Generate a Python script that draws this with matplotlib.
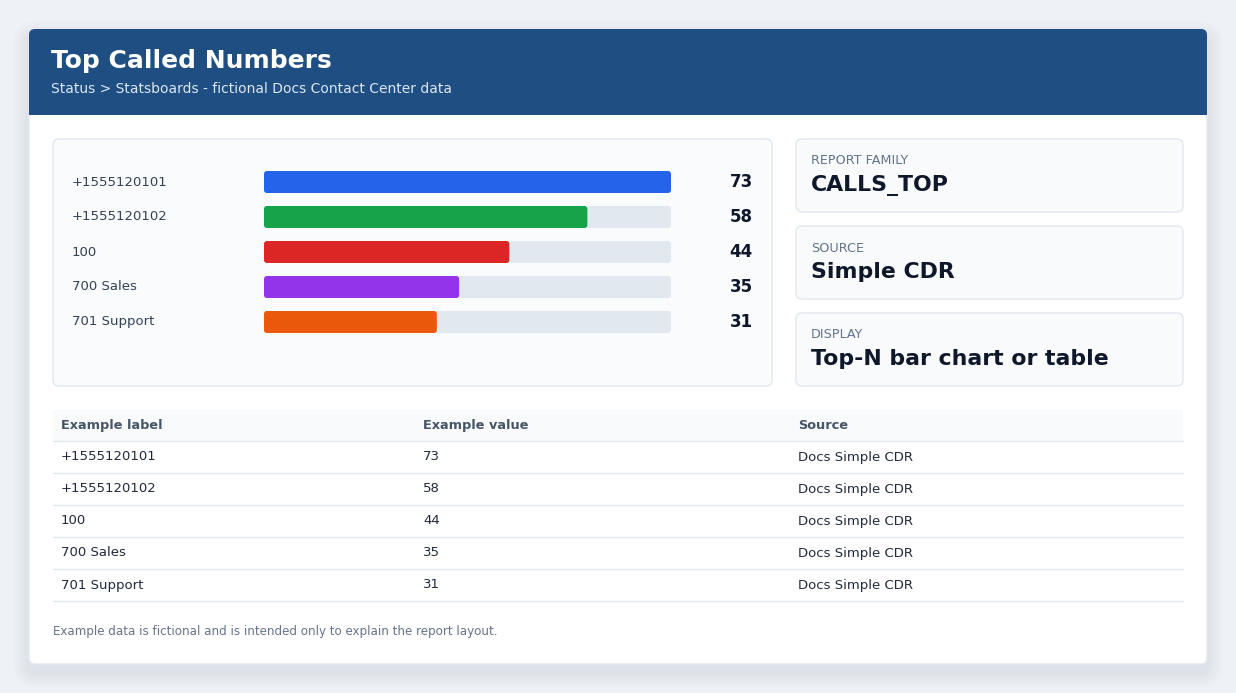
"""
Top Called Numbers - statsboard card
"""

import matplotlib.pyplot as plt
from matplotlib.patches import FancyBboxPatch, Rectangle

# data
labels = ["+1555120101", "+1555120102", "100", "700 Sales", "701 Support"]
values = [73, 58, 44, 35, 31]
bar_colors = ["#2563eb", "#16a34a", "#dc2626", "#9333ea", "#ea580c"]
sources = ["Docs Simple CDR"] * 5
table_headers = ["Example label", "Example value", "Source"]
info_titles = ["REPORT FAMILY", "SOURCE", "DISPLAY"]
info_values = ["CALLS_TOP", "Simple CDR", "Top-N bar chart or table"]

W, H = 1236, 693
fig = plt.figure(figsize=(W / 100, H / 100), dpi=100)
fig.patch.set_facecolor("#eef2f7")

# one axes in pixel units for the page
ax = fig.add_axes([0, 0, 1, 1])
ax.set_xlim(0, W)
ax.set_ylim(H, 0)
ax.axis("off")


def rbox(x0, y0, x1, y1, fc, ec="none", r=6, lw=1, z=1, alpha=1):
    p = FancyBboxPatch((x0 + r, y0 + r), x1 - x0 - 2 * r, y1 - y0 - 2 * r,
                       boxstyle=f"round,pad={r}", fc=fc, ec=ec, lw=lw,
                       zorder=z, alpha=alpha)
    ax.add_patch(p)
    return p


# soft card shadow + card
for i in range(8):
    d = 16 - 2 * i
    rbox(29 - d, 29 - d + 8, 1207 + d, 664 + d + 8, "#94a3b8", r=8 + d, z=0.5, alpha=0.018)
rbox(29, 29, 1207, 664, "white", ec="#e3e8ef", r=6, z=1)

# header band
rbox(29, 29, 1207, 115, "#1f4e82", r=6, z=2)
ax.add_patch(Rectangle((29, 100), 1178, 15, fc="#1f4e82", ec="none", zorder=2))
ax.text(51, 61, "Top Called Numbers", color="white", fontsize=18,
        fontweight="bold", va="center", zorder=3)
ax.text(51, 89, "Status > Statsboards - fictional Docs Contact Center data",
        color="#dbe6f3", fontsize=10, va="center", zorder=3)

# chart panel
rbox(53, 139, 772, 386, "#f9fbfd", ec="#e2e8f0", r=6, z=2)

# bar axes, the track spans the max value
bax = fig.add_axes([264 / W, 1 - 339.5 / H, 407 / W, 175 / H])
bax.set_xlim(0, max(values))
bax.set_ylim(len(values) - 0.5, -0.5)
bax.axis("off")
ypos = list(range(len(values)))
tracks = bax.barh(ypos, [max(values)] * len(values), height=22 / 35)
bars = bax.barh(ypos, values, height=22 / 35)
fig.canvas.draw()
# redraw the bars as rounded boxes on the page axes
inv = ax.transData.inverted()
for patches, colors in [(tracks, ["#e2e8f0"] * 5), (bars, bar_colors)]:
    for p, c in zip(patches, colors):
        ext = p.get_window_extent()
        (x0, y1), (x1, y0) = inv.transform([[ext.x0, ext.y0], [ext.x1, ext.y1]])
        rbox(x0, y0, x1, y1, c, r=3, z=3 if c == "#e2e8f0" else 4)
        p.set_visible(False)

for i, (lab, v) in enumerate(zip(labels, values)):
    yc = 182 + 35 * i
    ax.text(72, yc, lab, color="#334155", fontsize=9.5, va="center", zorder=5)
    ax.text(753, yc, str(v), color="#0f172a", fontsize=12, fontweight="bold",
            ha="right", va="center", zorder=5)

# info cards
for i, (t, v) in enumerate(zip(info_titles, info_values)):
    y0 = 139 + 87 * i
    rbox(796, y0, 1183, y0 + 73, "#f8fafc", ec="#e2e8f0", r=6, z=2)
    ax.text(811, y0 + 22, t, color="#64748b", fontsize=9.2, va="center", zorder=3)
    ax.text(811, y0 + 46, v, color="#0f172a", fontsize=15.8, fontweight="bold",
            va="center", zorder=3)

# table
col_x = [61, 423, 798]
ax.add_patch(Rectangle((53, 410), 1130, 31, fc="#f8fafc", ec="none", zorder=2))
for cx, h in zip(col_x, table_headers):
    ax.text(cx, 425.5, h, color="#475569", fontsize=9.3, fontweight="bold",
            va="center", zorder=3)
ax.plot([53, 1183], [441, 441], color="#e2e8f0", lw=1, zorder=3)
for i, (lab, v, s) in enumerate(zip(labels, values, sources)):
    yc = 457 + 32 * i
    for cx, txt in zip(col_x, [lab, str(v), s]):
        ax.text(cx, yc, txt, color="#1e293b", fontsize=9.5, va="center", zorder=3)
    ax.plot([53, 1183], [yc + 16, yc + 16], color="#e2e8f0", lw=1, zorder=3)

ax.text(53, 632, "Example data is fictional and is intended only to explain the report layout.",
        color="#64748b", fontsize=8.6, va="center", zorder=3)

fig.savefig("out.png", dpi=100, facecolor=fig.get_facecolor())
